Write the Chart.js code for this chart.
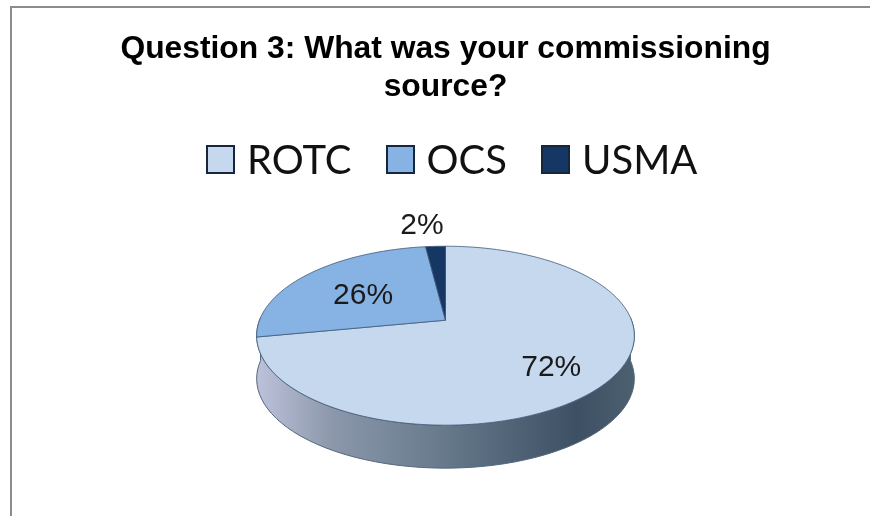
<!DOCTYPE html>
<html>
<head>
<meta charset="utf-8">
<title>Question 3</title>
<script src="https://cdn.jsdelivr.net/npm/chart.js@4/dist/chart.umd.min.js"></script>
<style>
  html, body { margin: 0; padding: 0; background: #fff; }
  #wrap { position: absolute; left: 0; top: 0; width: 870px; height: 516px; }
  #frame { position: absolute; left: 10px; top: 6px; width: 860px; height: 510px;
           border-left: 2px solid #8c8c8c; border-top: 2px solid #8c8c8c; box-sizing: border-box; }
  #pie_legend { position: absolute; left: 206px; top: 136px; display: flex; align-items: center;
                font: 40px/46px Lato, "Noto Sans", sans-serif; color: #111; white-space: nowrap; }
  #pie_legend .item { display: flex; align-items: center; margin-right: 34px; }
  #pie_legend .box { width: 29px; height: 29px; box-sizing: border-box; border: 2px solid #16263c; margin-right: 12px; }
</style>
</head>
<body>
<div id="wrap">
  <canvas id="pie_chart" width="870" height="516"></canvas>
  <div id="frame"></div>
  <div id="pie_legend"></div>
</div>
<script>
const titleLines  = ['Question 3: What was your commissioning', 'source?'];
const categories  = ['ROTC', 'OCS', 'USMA'];
const seriesValues = [72, 26, 2];
const sliceColors = ['#c6d8ee', '#86b2e4', '#163663'];

// ---- tilted disc: half width, half depth and vanishing factor of the top face
const tilt = { halfX: 186, halfY: 86.8, persp: 0.173, depth: 43 };
const labelRadius = [0.70, 0.58, 1.32];
const labelNudge  = [[-3, 6], [0, 3], [-11, -1]];

function project(arc, angle, r) {
  const X = Math.cos(angle) * r, Y = Math.sin(angle) * r;
  const d = 1 - tilt.persp * Y;
  return { x: arc.x + X * tilt.halfX / d, y: arc.y + Y * tilt.halfY / d };
}

function traceEdge(ctx, arc, from, to) {
  const steps = Math.max(4, Math.ceil(Math.abs(to - from) * 40));
  for (let i = 0; i <= steps; i++) {
    const p = project(arc, from + (to - from) * i / steps, 1);
    ctx.lineTo(p.x, p.y);
  }
}

const tiltedPie = {
  id: 'tiltedPie',
  beforeDatasetDraw(chart, args) {
    const ctx = chart.ctx;
    const arcs = args.meta.data;
    const first = arcs[0];

    // ---- side wall, only the near half of the rim shows
    const left = project(first, Math.PI - 0.05, 1).x, right = project(first, 0.05, 1).x;
    const wall = ctx.createLinearGradient(left, 0, right, 0);
    wall.addColorStop(0, '#bcc1da');
    wall.addColorStop(0.2, '#8b97aa');
    wall.addColorStop(0.5, '#66798b');
    wall.addColorStop(0.85, '#3d5064');
    wall.addColorStop(1, '#4d6070');
    ctx.save();
    ctx.beginPath();
    const start = -0.03, end = Math.PI + 0.03;
    let p = project(first, start, 1);
    ctx.moveTo(p.x, p.y);
    traceEdge(ctx, first, start, end);
    for (let i = 0; i <= 60; i++) {
      p = project(first, end + (start - end) * i / 60, 1);
      ctx.lineTo(p.x, p.y + tilt.depth);
    }
    ctx.closePath();
    ctx.fillStyle = wall;
    ctx.fill();
    ctx.strokeStyle = '#55677a';
    ctx.lineWidth = 1;
    ctx.stroke();

    // ---- top face slices, angles come from the arc elements
    arcs.forEach((arc, i) => {
      ctx.beginPath();
      ctx.moveTo(arc.x, arc.y);
      traceEdge(ctx, arc, arc.startAngle, arc.endAngle);
      ctx.closePath();
      ctx.fillStyle = sliceColors[i];
      ctx.fill();
      ctx.strokeStyle = '#3f5a78';
      ctx.lineWidth = 0.8;
      ctx.stroke();
    });

    // ---- percent labels
    ctx.font = '30px "Liberation Sans", Arial, sans-serif';
    ctx.fillStyle = '#1a1a1a';
    ctx.textAlign = 'center';
    ctx.textBaseline = 'middle';
    arcs.forEach((arc, i) => {
      const q = project(arc, (arc.startAngle + arc.endAngle) / 2, labelRadius[i]);
      ctx.fillText(seriesValues[i] + '%', q.x + labelNudge[i][0], q.y + labelNudge[i][1]);
    });
    ctx.restore();
    return false;
  }
};

new Chart(document.getElementById('pie_chart').getContext('2d'), {
  type: 'pie',
  data: {
    labels: categories,
    datasets: [{ data: seriesValues, backgroundColor: sliceColors, borderWidth: 0 }]
  },
  plugins: [tiltedPie],
  options: {
    responsive: false,
    animation: false,
    layout: { padding: { left: 21, top: 0, bottom: 20 } },
    plugins: {
      tooltip: { enabled: false },
      legend: { display: false },
      title: {
        display: true,
        text: titleLines,
        color: '#000',
        font: { family: '"Liberation Sans", Arial, sans-serif', size: 31.8, weight: 'bold', lineHeight: 1.17 },
        padding: { top: 31, bottom: 39 }
      }
    }
  }
});

// ---- legend row
let temp = ``;
categories.forEach((name, i) => {
  temp += `<div class="item"><div class="box" style="background-color:` + sliceColors[i] + `"></div><span>` + name + `</span></div>`;
});
document.getElementById('pie_legend').innerHTML = temp;
</script>
</body>
</html>
